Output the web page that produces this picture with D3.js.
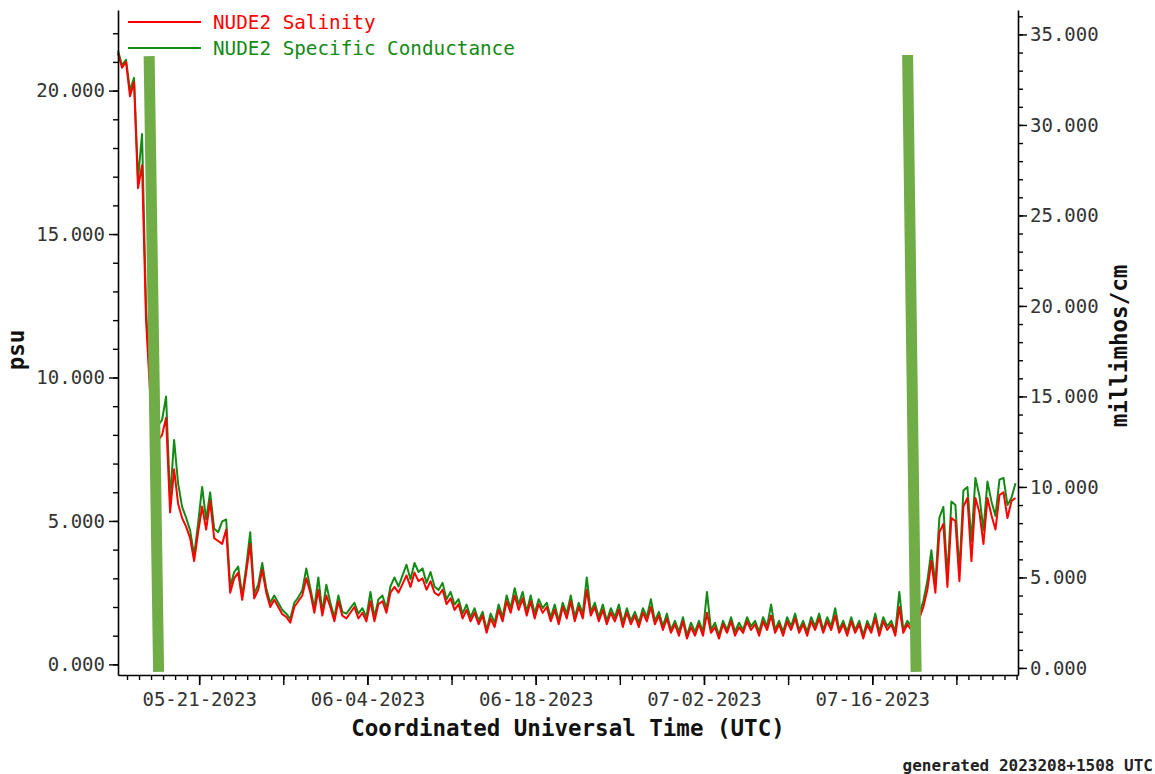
<!DOCTYPE html>
<html>
<head>
<meta charset="utf-8">
<script src="https://cdn.jsdelivr.net/npm/d3@7"></script>
<style>
  body { margin: 0; background: #fff; }
  svg text { font-family: "DejaVu Sans Mono", monospace; }
</style>
</head>
<body>
<svg id="chart"></svg>
<script>

const width = 1155;
const height = 774;

// DATA

const startTime = "2023-05-14T06:00:00Z";
const stepHours = 8;
const timeDomain = ["2023-05-14T06:00:00Z", "2023-07-28T03:00:00Z"];

const salinity = [
  21.3, 20.8, 21.0, 19.8, 20.3, 16.6, 17.4, 12.0, 9.5, 8.0,
  7.8, 8.0, 8.6, 5.3, 6.8, 5.6, 5.1, 4.8, 4.4, 3.6,
  4.6, 5.5, 4.7, 5.7, 4.4, 4.3, 4.2, 4.7, 2.5, 3.0,
  3.2, 2.25, 3.2, 4.2, 2.3, 2.6, 3.3, 2.5, 2.0, 2.25,
  2.0, 1.75, 1.65, 1.45, 2.0, 2.2, 2.4, 3.0, 2.5, 1.8,
  2.6, 1.7, 2.4, 2.0, 1.5, 2.2, 1.7, 1.6, 1.8, 2.0,
  1.6, 1.8, 1.5, 2.2, 1.5, 2.1, 2.2, 1.8, 2.5, 2.7,
  2.5, 2.8, 3.1, 2.7, 3.2, 2.9, 3.0, 2.6, 2.9, 2.5,
  2.4, 2.6, 2.1, 2.3, 1.9, 2.1, 1.6, 1.9, 1.5, 1.8,
  1.4, 1.7, 1.1, 1.6, 1.3, 1.9, 1.5, 2.2, 1.8, 2.4,
  1.9, 2.3, 1.7, 2.2, 1.6, 2.1, 1.8, 2.0, 1.5, 1.9,
  1.4, 2.0, 1.6, 2.2, 1.5, 2.0, 1.6, 2.6, 1.7, 2.0,
  1.5, 1.9, 1.4, 1.8, 1.5, 1.9, 1.3, 1.8, 1.4, 1.7,
  1.3, 1.8, 1.5, 2.0, 1.4, 1.7, 1.2, 1.6, 1.1, 1.4,
  1.0, 1.5, 0.9, 1.3, 1.0, 1.4, 1.0, 1.8, 1.1, 1.3,
  0.9, 1.4, 1.1, 1.5, 1.0, 1.3, 1.1, 1.5, 1.2, 1.4,
  1.0, 1.5, 1.2, 1.7, 1.1, 1.4, 1.0, 1.5, 1.2, 1.6,
  1.1, 1.4, 1.0, 1.5, 1.2, 1.6, 1.1, 1.5, 1.2, 1.7,
  1.1, 1.4, 1.0, 1.5, 1.1, 1.4, 0.9, 1.4, 1.1, 1.6,
  1.0, 1.5, 1.2, 1.4, 1.0, 2.0, 1.1, 1.4, 1.2, 1.5,
  1.6, 2.0, 2.6, 3.6, 2.5, 4.6, 4.9, 2.7, 5.1, 5.0,
  2.9, 5.5, 5.8, 3.6, 5.8, 5.3, 4.2, 5.8, 5.2, 4.7,
  5.9, 6.0, 5.1, 5.7, 5.8
];

const conductance = [
  34.1, 33.3, 33.6, 31.9, 32.6, 27.0, 29.5, 19.8, 15.9, 13.7,
  13.4, 13.7, 15.0, 9.3, 12.6, 10.2, 8.9, 8.3, 7.6, 6.2,
  8.0, 10.0, 8.2, 9.7, 7.7, 7.5, 8.1, 8.2, 4.5, 5.3,
  5.6, 4.0, 5.6, 7.5, 4.1, 4.6, 5.8, 4.4, 3.6, 4.0,
  3.6, 3.2, 3.0, 2.7, 3.6, 3.9, 4.3, 5.5, 4.4, 3.3,
  5.0, 3.1, 4.6, 3.6, 2.8, 4.0, 3.1, 3.0, 3.3, 3.6,
  3.0, 3.3, 2.8, 4.2, 2.8, 3.8, 4.0, 3.3, 4.5, 5.0,
  4.5, 5.1, 5.7, 4.9, 5.8, 5.3, 5.5, 4.7, 5.3, 4.5,
  4.3, 4.7, 3.8, 4.2, 3.5, 3.8, 3.0, 3.5, 2.8, 3.3,
  2.6, 3.1, 2.1, 3.0, 2.5, 3.5, 2.8, 4.0, 3.3, 4.4,
  3.5, 4.2, 3.1, 4.0, 3.0, 3.8, 3.3, 3.6, 2.8, 3.5,
  2.6, 3.6, 3.0, 4.0, 2.8, 3.6, 3.0, 5.0, 3.1, 3.6,
  2.8, 3.5, 2.6, 3.3, 2.8, 3.5, 2.5, 3.3, 2.6, 3.1,
  2.5, 3.3, 2.8, 3.8, 2.6, 3.1, 2.3, 3.0, 2.1, 2.6,
  2.0, 2.8, 1.8, 2.5, 2.0, 2.6, 2.0, 4.2, 2.1, 2.5,
  1.8, 2.6, 2.1, 2.8, 2.0, 2.5, 2.1, 2.8, 2.3, 2.6,
  2.0, 2.8, 2.3, 3.5, 2.1, 2.6, 2.0, 2.8, 2.3, 3.0,
  2.1, 2.6, 2.0, 2.8, 2.3, 3.0, 2.1, 2.8, 2.3, 3.3,
  2.1, 2.6, 2.0, 2.8, 2.1, 2.6, 1.8, 2.6, 2.1, 3.0,
  2.0, 2.8, 2.3, 2.6, 2.0, 4.2, 2.1, 2.6, 2.3, 2.8,
  3.0, 3.7, 4.8, 6.5, 4.6, 8.3, 8.9, 5.0, 9.2, 9.0,
  5.3, 9.8, 10.0, 7.0, 10.5, 9.5, 7.6, 10.3, 9.2, 8.4,
  10.4, 10.5, 9.0, 9.4, 10.2
];

const seriesNames = ["NUDE2 Salinity", "NUDE2 Specific Conductance"];
const seriesColors = ["#ff0000", "#138a13"];

const dateLabels = ["05-21-2023", "06-04-2023", "06-18-2023", "07-02-2023", "07-16-2023"];
const psuTicks = [0, 5, 10, 15, 20];
const condTicks = [0, 5, 10, 15, 20, 25, 30, 35];

// the two hand drawn green marker bars (top -> bottom)
const markerTimes = [
  ["2023-05-16T20:10:00Z", "2023-05-17T15:05:00Z"],
  ["2023-07-18T22:35:00Z", "2023-07-19T15:35:00Z"]
];
const markerPsu = [
  [21.2, -0.26],
  [21.24, -0.26]
];

// SCALES

const plot = { left: 118, right: 1018, top: 10, bottom: 675 };

const x = d3.scaleUtc()
  .domain(timeDomain.map(d => new Date(d)))
  .range([plot.left, plot.right]);

const yL = d3.scaleLinear()
  .domain([-0.37, 22.81])
  .range([plot.bottom, plot.top]);

const yR = d3.scaleLinear()
  .domain([-0.39, 36.35])
  .range([plot.bottom, plot.top]);

const t0 = new Date(startTime).getTime();
const timeAt = i => new Date(t0 + i * stepHours * 3600 * 1000);

const svg = d3.select("#chart")
  .attr("width", width)
  .attr("height", height);

// SERIES (conductance under salinity)

const condLine = d3.line()
  .x((d, i) => x(timeAt(i)))
  .y(d => yR(d));

const salLine = d3.line()
  .x((d, i) => x(timeAt(i)))
  .y(d => yL(d));

svg.append("path")
  .datum(conductance)
  .attr("fill", "none")
  .attr("stroke", seriesColors[1])
  .attr("stroke-width", 2)
  .attr("stroke-linejoin", "round")
  .attr("d", condLine);

svg.append("path")
  .datum(salinity)
  .attr("fill", "none")
  .attr("stroke", seriesColors[0])
  .attr("stroke-width", 2)
  .attr("stroke-linejoin", "round")
  .attr("d", salLine);

// MARKER BARS

svg.append("g")
  .selectAll("line")
  .data(markerTimes)
  .enter()
  .append("line")
  .attr("x1", d => x(new Date(d[0])))
  .attr("x2", d => x(new Date(d[1])))
  .attr("y1", (d, i) => yL(markerPsu[i][0]))
  .attr("y2", (d, i) => yL(markerPsu[i][1]))
  .attr("stroke", "#70ad47")
  .attr("stroke-width", 11)
  .attr("stroke-linecap", "butt");

// AXES

function styleAxis(g) {
  g.selectAll("path").attr("stroke", "#000").attr("stroke-width", 1.6);
  g.selectAll("line").attr("stroke", "#000").attr("stroke-width", 1.4);
  g.selectAll("text")
    .attr("fill", "#333")
    .style("font-size", "19px")
    .style("font-family", "'DejaVu Sans Mono', monospace");
}

// left
svg.append("g")
  .attr("transform", `translate(${plot.left},0)`)
  .call(d3.axisLeft(yL).tickValues(d3.range(0, 23)).tickSize(5).tickFormat(""))
  .call(g => g.select(".domain").remove())
  .call(styleAxis);

svg.append("g")
  .attr("transform", `translate(${plot.left},0)`)
  .call(d3.axisLeft(yL).tickValues(psuTicks).tickSize(9).tickSizeOuter(0)
    .tickPadding(4).tickFormat(d3.format(".3f")))
  .call(styleAxis);

// right
svg.append("g")
  .attr("transform", `translate(${plot.right},0)`)
  .call(d3.axisRight(yR).tickValues(d3.range(0, 37)).tickSize(5).tickFormat(""))
  .call(g => g.select(".domain").remove())
  .call(styleAxis);

svg.append("g")
  .attr("transform", `translate(${plot.right},0)`)
  .call(d3.axisRight(yR).tickValues(condTicks).tickSize(9).tickSizeOuter(0)
    .tickPadding(3).tickFormat(d3.format(".3f")))
  .call(styleAxis);

// bottom
const parseLabel = d3.utcParse("%m-%d-%Y");
const fmtLabel = d3.utcFormat("%m-%d-%Y");

svg.append("g")
  .attr("transform", `translate(0,${plot.bottom})`)
  .call(d3.axisBottom(x).ticks(d3.utcDay.every(1)).tickSize(5).tickFormat(""))
  .call(g => g.select(".domain").remove())
  .call(styleAxis);

svg.append("g")
  .attr("transform", `translate(0,${plot.bottom})`)
  .call(d3.axisBottom(x).ticks(d3.utcSunday.every(1)).tickSize(10).tickFormat(""))
  .call(g => g.select(".domain").remove())
  .call(styleAxis);

svg.append("g")
  .attr("transform", `translate(0,${plot.bottom})`)
  .call(d3.axisBottom(x).tickValues(dateLabels.map(parseLabel)).tickSize(10)
    .tickSizeOuter(0).tickPadding(8).tickFormat(fmtLabel))
  .call(styleAxis);

// TITLES

svg.append("text")
  .attr("x", (plot.left + plot.right) / 2)
  .attr("y", 736)
  .attr("text-anchor", "middle")
  .attr("font-weight", "bold")
  .attr("font-size", "22.5px")
  .attr("fill", "#111")
  .text("Coordinated Universal Time (UTC)");

svg.append("text")
  .attr("transform", "translate(24,350) rotate(-90)")
  .attr("text-anchor", "middle")
  .attr("font-weight", "bold")
  .attr("font-size", "22.5px")
  .attr("fill", "#111")
  .text("psu");

svg.append("text")
  .attr("transform", "translate(1127,346) rotate(-90)")
  .attr("text-anchor", "middle")
  .attr("font-weight", "bold")
  .attr("font-size", "22.5px")
  .attr("fill", "#111")
  .text("millimhos/cm");

svg.append("text")
  .attr("x", 1153)
  .attr("y", 771)
  .attr("text-anchor", "end")
  .attr("font-weight", "bold")
  .attr("font-size", "16px")
  .attr("fill", "#222")
  .text("generated 2023208+1508 UTC");

// LEGEND

const legend = svg.append("g")
  .selectAll("g")
  .data(seriesNames)
  .enter()
  .append("g")
  .attr("transform", (d, i) => `translate(128,${22 + i * 26})`);

legend.append("line")
  .attr("x1", 0)
  .attr("x2", 73)
  .attr("stroke", (d, i) => seriesColors[i])
  .attr("stroke-width", 2);

legend.append("text")
  .attr("x", 85)
  .attr("y", 7)
  .attr("font-size", "19.3px")
  .attr("fill", (d, i) => seriesColors[i])
  .text(d => d);

</script>
</body>
</html>
